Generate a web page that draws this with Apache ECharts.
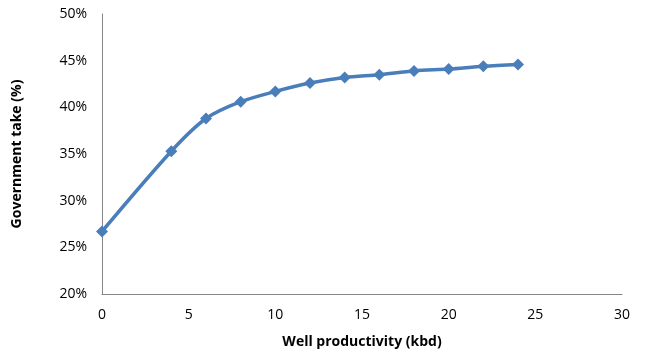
<!DOCTYPE html>
<html>
<head>
<meta charset="utf-8">
<script src="https://cdn.jsdelivr.net/npm/echarts@6/dist/echarts.min.js"></script>
<style>
  html, body { margin: 0; padding: 0; background: #fff; }
  #chart { width: 645px; height: 354px; }
</style>
</head>
<body>
<div id="chart"></div>
<script>
// 井产量 (kbd) 与政府收益占比 (%)
const productivity = [0, 4, 6, 8, 10, 12, 14, 16, 18, 20, 22, 24]
const governmentTake = [26.7, 35.3, 38.8, 40.6, 41.7, 42.6, 43.2, 43.5, 43.9, 44.1, 44.4, 44.6]

const chart = echarts.init(document.getElementById('chart'))
const font = 'Open Sans'

const option = {
  animation: false,
  grid: {
    left: 102,
    right: 23,
    top: 14,
    bottom: 58
  },
  xAxis: {
    type: 'value',
    min: 0,
    max: 30,
    interval: 5,
    name: 'Well productivity (kbd)',
    nameLocation: 'middle',
    nameGap: 41,
    nameTextStyle: {
      fontFamily: font,
      fontWeight: 'bold',
      fontSize: 14,
      color: '#000'
    },
    axisLine: { lineStyle: { color: '#868686', width: 1 } },
    axisTick: { show: false },
    axisLabel: { fontFamily: font, fontSize: 14, color: '#000', margin: 14 },
    splitLine: { show: false }
  },
  yAxis: {
    type: 'value',
    min: 20,
    max: 50,
    interval: 5,
    name: 'Government take (%)',
    nameLocation: 'middle',
    nameGap: 78,
    nameRotate: 90,
    nameTextStyle: {
      fontFamily: font,
      fontWeight: 'bold',
      fontSize: 14,
      color: '#000'
    },
    axisLine: { show: true, lineStyle: { color: '#868686', width: 1 } },
    axisTick: { show: false },
    axisLabel: {
      fontFamily: font,
      fontSize: 14,
      color: '#000',
      margin: 15,
      formatter: v => v + '%'
    },
    splitLine: { show: false }
  },
  series: [
    {
      type: 'line',
      data: productivity.map((x, i) => [x, governmentTake[i]]),
      smooth: 0.3,
      symbol: 'diamond',
      symbolSize: 12,
      lineStyle: { color: '#4A7EBB', width: 3.5 },
      itemStyle: { color: '#4A7EBB' }
    }
  ]
}

chart.setOption(option)
</script>
</body>
</html>
